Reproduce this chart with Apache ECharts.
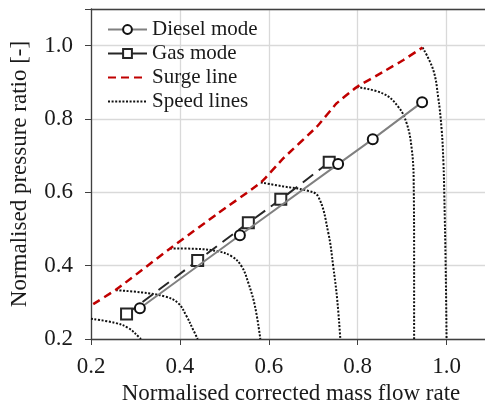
<!DOCTYPE html>
<html>
<head>
<meta charset="utf-8">
<script src="https://cdn.jsdelivr.net/npm/echarts@6/dist/echarts.min.js"></script>
<style>
  html, body { margin: 0; padding: 0; background: #fff; }
  #chart { width: 485px; height: 408px; }
</style>
</head>
<body>
<div id="chart"></div>
<script>
// operating lines [mass flow, pressure ratio]
const dieselMode = [[0.310, 0.284], [0.535, 0.483], [0.756, 0.677], [0.834, 0.745], [0.945, 0.846]]
const gasMode = [[0.280, 0.268], [0.440, 0.414], [0.554, 0.517], [0.627, 0.581], [0.736, 0.682]]
const surgeLine = [[0.205, 0.295], [0.258, 0.336], [0.378, 0.447], [0.486, 0.543], [0.582, 0.627],
  [0.633, 0.693], [0.708, 0.779], [0.753, 0.843], [0.798, 0.887], [0.858, 0.929], [0.903, 0.961], [0.946, 0.995]]

// speed lines, one per shaft speed
const speedLine1 = [[0.2, 0.255], [0.254, 0.244], [0.284, 0.230], [0.310, 0.203], [0.312, 0.2]]
const speedLine2 = [[0.256, 0.333], [0.314, 0.327], [0.366, 0.316], [0.396, 0.298], [0.415, 0.262], [0.430, 0.225], [0.440, 0.2]]
const speedLine3 = [[0.378, 0.447], [0.434, 0.446], [0.486, 0.439], [0.517, 0.425], [0.539, 0.398], [0.554, 0.353], [0.569, 0.289], [0.581, 0.2]]
const speedLine4 = [[0.582, 0.627], [0.633, 0.616], [0.685, 0.605], [0.711, 0.589], [0.734, 0.489], [0.745, 0.398], [0.754, 0.307], [0.761, 0.2]]
const speedLine5 = [[0.798, 0.887], [0.858, 0.869], [0.891, 0.834], [0.910, 0.789], [0.921, 0.725], [0.926, 0.634], [0.927, 0.4], [0.927, 0.2]]
const speedLine6 = [[0.946, 0.995], [0.970, 0.934], [0.981, 0.861], [0.989, 0.770], [0.993, 0.680], [0.995, 0.589], [0.998, 0.4], [1.0, 0.2]]
const speedLines = [speedLine1, speedLine2, speedLine3, speedLine4, speedLine5, speedLine6]

const xTicks = [0.2, 0.4, 0.6, 0.8, 1.0]
const yTicks = [0.2, 0.4, 0.6, 0.8, 1.0]

const font = 'Liberation Serif'
const txt = '#1a1a1a'

let chart = echarts.init(document.getElementById('chart'))

let speedSeries = speedLines.map((d) => ({
  name: 'Speed lines',
  type: 'line',
  data: d,
  smooth: 0.4,
  symbol: 'none',
  z: 2,
  color: '#111',
  lineStyle: { color: '#111', width: 2, type: [2, 1.6] }
}))

chart.setOption({
  animation: false,
  textStyle: { fontFamily: font },
  grid: { left: 91, top: 9, right: -6, bottom: 69, outerBoundsMode: 'none', containLabel: false },
  legend: {
    orient: 'vertical',
    left: 102,
    top: 14,
    itemWidth: 39,
    itemHeight: 11,
    itemGap: 3,
    textStyle: { fontFamily: font, fontSize: 21, color: txt },
    data: [
      { name: 'Diesel mode' },
      { name: 'Gas mode', lineStyle: { type: 'solid' } },
      { name: 'Surge line', itemStyle: { opacity: 0 } },
      { name: 'Speed lines', itemStyle: { opacity: 0 } }
    ]
  },
  xAxis: [{
    type: 'value',
    min: 0.2,
    max: 1.1,
    interval: 0.2,
    name: 'Normalised corrected mass flow rate',
    nameLocation: 'middle',
    nameGap: 43,
    nameTextStyle: { fontFamily: font, fontSize: 23, color: txt },
    axisLine: { lineStyle: { color: '#404040', width: 1.3 } },
    axisTick: { show: true, inside: false, length: 6, lineStyle: { color: '#404040' } },
    axisLabel: {
      margin: 16, fontFamily: font, fontSize: 23, color: txt,
      formatter: (v) => xTicks.some((t) => Math.abs(t - v) < 1e-6) ? v.toFixed(1) : ''
    },
    splitLine: { show: true, lineStyle: { color: '#d9d9d9', width: 1.3 } }
  }, {
    type: 'value',
    position: 'top',
    min: 0.2,
    max: 1.1,
    axisLine: { show: true, onZero: false, lineStyle: { color: '#404040', width: 1.3 } },
    axisTick: { show: false },
    axisLabel: { show: false },
    splitLine: { show: false }
  }],
  yAxis: {
    type: 'value',
    min: 0.2,
    max: 1.1,
    interval: 0.2,
    name: 'Normalised pressure ratio [-]',
    nameLocation: 'middle',
    nameGap: 60,
    nameTextStyle: { fontFamily: font, fontSize: 23, color: txt },
    axisLine: { show: true, lineStyle: { color: '#404040', width: 1.3 } },
    axisTick: { show: true, inside: false, length: 6, lineStyle: { color: '#404040' } },
    axisLabel: {
      margin: 18, fontFamily: font, fontSize: 23, color: txt,
      formatter: (v) => yTicks.some((t) => Math.abs(t - v) < 1e-6) ? v.toFixed(1) : ''
    },
    splitLine: { show: true, lineStyle: { color: '#d9d9d9', width: 1.3 } }
  },
  series: [
    {
      name: 'Diesel mode',
      type: 'line',
      data: dieselMode,
      symbol: 'circle',
      symbolSize: 10,
      z: 4,
      lineStyle: { color: '#808080', width: 2 },
      itemStyle: { color: '#fff', borderColor: '#111', borderWidth: 2 }
    },
    {
      name: 'Gas mode',
      type: 'line',
      data: gasMode,
      symbol: 'rect',
      symbolSize: 11,
      z: 3,
      lineStyle: { color: '#262626', width: 2, type: [13, 7] },
      itemStyle: { color: '#fff', borderColor: '#262626', borderWidth: 2 }
    },
    {
      name: 'Surge line',
      type: 'line',
      data: surgeLine,
      smooth: 0.15,
      symbol: 'none',
      z: 3,
      color: '#c00000',
      lineStyle: { color: '#c00000', width: 2.5, type: [8, 5] }
    },
    ...speedSeries
  ]
})
</script>
</body>
</html>
